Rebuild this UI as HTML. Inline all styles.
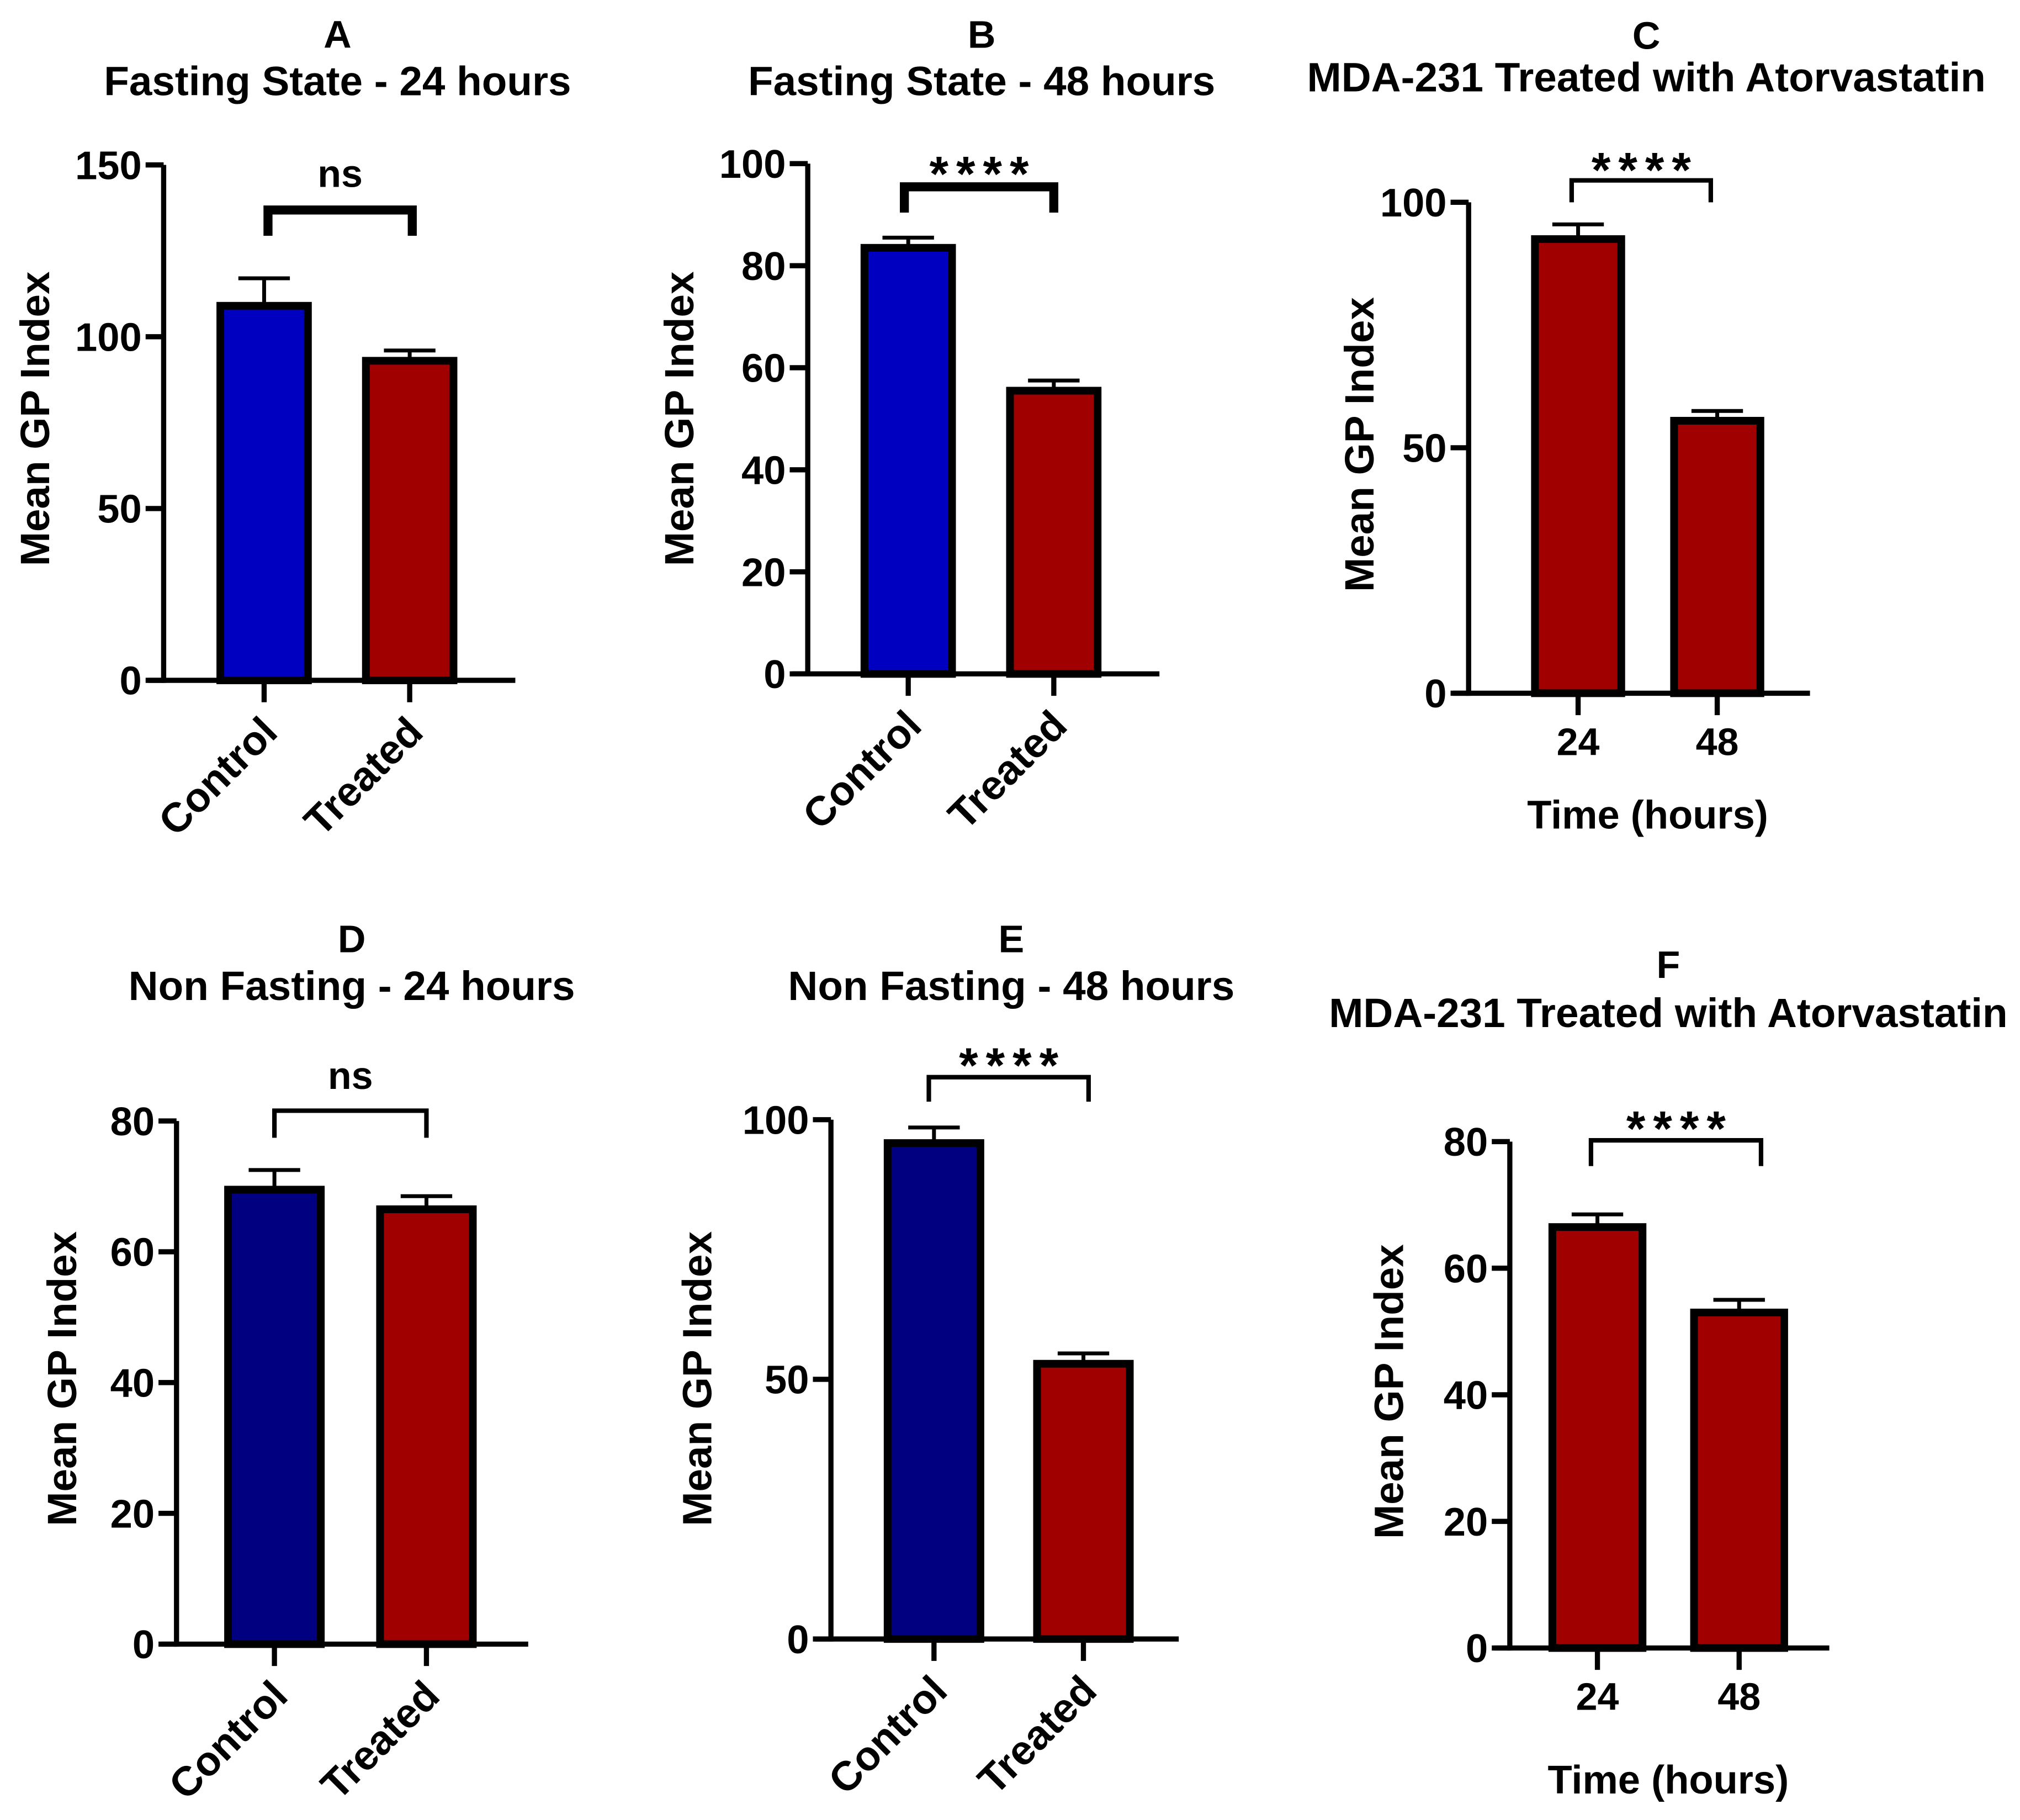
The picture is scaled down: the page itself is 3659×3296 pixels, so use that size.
<!DOCTYPE html>
<html><head><meta charset="utf-8"><style>
html,body{margin:0;padding:0;background:#fff}
svg{display:block}
text{font-family:"Liberation Sans",Arial,sans-serif;font-weight:bold;fill:#000}
</style></head><body>
<svg id="fig" xmlns="http://www.w3.org/2000/svg" width="3659" height="3296" viewBox="0 0 1568 1412.5"></svg>
<script>
const panelLetters=["A","B","C","D","E","F"];
const panelTitles=["Fasting State - 24 hours","Fasting State - 48 hours","MDA-231 Treated with Atorvastatin","Non Fasting - 24 hours","Non Fasting - 48 hours","MDA-231 Treated with Atorvastatin"];
const catsA=["Control","Treated"], catsC=["24","48"];
const meansA=[109,93], errA=[117,96];
const meansB=[83.5,55.5], errB=[85.5,57.5];
const meansC=[92.5,55.5], errC=[95.5,57.5];
const meansD=[69.5,66.5], errD=[72.5,68.5];
const meansE=[95.5,53], errE=[98.5,55];
const meansF=[66.5,53], errF=[68.5,55];
const ticksA=[0,50,100,150], ticksB=[0,20,40,60,80,100], ticksC=[0,50,100], ticksD=[0,20,40,60,80], ticksE=[0,50,100], ticksF=[0,20,40,60,80];
const sigLabels=["ns","****","****","ns","****","****"];

const NS="http://www.w3.org/2000/svg";
const svg=document.getElementById('fig');
function mk(tag,attrs,parent,txt){const e=document.createElementNS(NS,tag);for(const k in attrs)e.setAttribute(k,attrs[k]);if(txt!==undefined)e.textContent=txt;(parent||svg).appendChild(e);return e;}

const panels=[
 {ax:127,y0:528,ymax:150,ytop:128,xa0:115,xa1:400,cx:[205,318],bw:68,m:meansA,e:errA,t:ticksA,cats:catsA,rot:true,cols:["#0000c0","#a00000"],br:{y:163,x0:208,x1:320,d:20,w:7},sig:{y:145},tx:262,ty:[37,74],yl:{x:27,y:325},time:false},
 {ax:627,y0:523,ymax:100,ytop:127,xa0:615,xa1:900,cx:[705,818],bw:68,m:meansB,e:errB,t:ticksB,cats:catsA,rot:true,cols:["#0000c0","#a00000"],br:{y:145,x0:702,x1:818,d:20,w:7},sig:{y:138},tx:762,ty:[37,74],yl:{x:527,y:325},time:false},
 {ax:1140,y0:538,ymax:100,ytop:157,xa0:1128,xa1:1405,cx:[1225,1333],bw:67,m:meansC,e:errC,t:ticksC,cats:catsC,rot:false,cols:["#a00000","#a00000"],br:{y:140,x0:1220,x1:1328,d:17,w:3.5},sig:{y:135},tx:1278,ty:[38,71],yl:{x:1055,y:345},time:{y:643}},
 {ax:137,y0:1276,ymax:80,ytop:870,xa0:125,xa1:410,cx:[213,331],bw:72,m:meansD,e:errD,t:ticksD,cats:catsA,rot:true,cols:["#000080","#a00000"],br:{y:862,x0:213,x1:331,d:21,w:3.5},sig:{y:845},tx:273,ty:[739,776],yl:{x:48,y:1070},time:false},
 {ax:645,y0:1272,ymax:100,ytop:869,xa0:633,xa1:915,cx:[725,841],bw:72,m:meansE,e:errE,t:ticksE,cats:catsA,rot:true,cols:["#000080","#a00000"],br:{y:836,x0:721,x1:845,d:19,w:3.5},sig:{y:830},tx:785,ty:[739,776],yl:{x:541,y:1070},time:false},
 {ax:1172,y0:1279,ymax:80,ytop:886,xa0:1160,xa1:1420,cx:[1240,1350],bw:70,m:meansF,e:errF,t:ticksF,cats:catsC,rot:false,cols:["#a00000","#a00000"],br:{y:885,x0:1235,x1:1367,d:20,w:3.5},sig:{y:879},tx:1295,ty:[759,797],yl:{x:1078,y:1080},time:{y:1392}}
];

panels.forEach((p,i)=>{
 const g=mk('g',{});
 
 
 const yS=v=>p.y0-(v/p.ymax)*(p.y0-p.ytop);
 const l=mk('text',{x:p.tx,y:p.ty[0],'text-anchor':'middle','font-size':30},g,panelLetters[i]);
 
 
 const t=mk('text',{x:p.tx,y:p.ty[1],'text-anchor':'middle','font-size':32},g,panelTitles[i]);
 
 
 p.m.forEach((v,j)=>{
  const x=p.cx[j];
  const eb=mk('path',{d:`M${x} ${yS(v)}V${yS(p.e[j])}M${x-20} ${yS(p.e[j])}H${x+20}`,stroke:'#000','stroke-width':3,fill:'none'},g);
  
  
  const r=mk('rect',{x:x-p.bw/2,y:yS(v),width:p.bw,height:p.y0-yS(v),fill:p.cols[j],stroke:'#000','stroke-width':6},g);
  
  
  const tk=mk('line',{x1:x,x2:x,y1:p.y0,y2:p.y0+17,stroke:'#000','stroke-width':4},g);
  
  
  let lab;
  if(p.rot){
   const ax=x+12, ay=p.y0+42;
   lab=mk('text',{x:ax,y:ay,'text-anchor':'end','font-size':32,transform:`rotate(-45 ${ax} ${ay})`},g,p.cats[j]);
  } else {
   lab=mk('text',{x:x,y:p.y0+48,'text-anchor':'middle','font-size':30},g,p.cats[j]);
  }
  
  
 });
 const ya=mk('line',{x1:p.ax,x2:p.ax,y1:p.ytop,y2:p.y0+2,stroke:'#000','stroke-width':4},g);
 
 
 const xa=mk('line',{x1:p.xa0,x2:p.xa1,y1:p.y0,y2:p.y0,stroke:'#000','stroke-width':4},g);
 
 
 p.t.forEach(v=>{
  const y=yS(v);
  const tk=mk('line',{x1:p.ax-14,x2:p.ax,y1:y,y2:y,stroke:'#000','stroke-width':4},g);
  
  
  const tl=mk('text',{x:p.ax-17,y:y+11,'text-anchor':'end','font-size':31},g,String(v));
  
  
 });
 const yl=mk('text',{x:p.yl.x,y:p.yl.y,'text-anchor':'middle','font-size':32,transform:`rotate(-90 ${p.yl.x} ${p.yl.y})`,'dominant-baseline':'central'},g,'Mean GP Index');
 
 
 if(p.time){
  const tt=mk('text',{x:(p.cx[0]+p.cx[1])/2,y:p.time.y,'text-anchor':'middle','font-size':31},g,'Time (hours)');
  
  
 }
 const b=p.br;
 const br=mk('path',{d:`M${b.x0} ${b.y+b.d}V${b.y}H${b.x1}V${b.y+b.d}`,stroke:'#000','stroke-width':b.w,fill:'none'},g);
 
 
 const isNs=sigLabels[i]==='ns';
 const s=mk('text',{x:(b.x0+b.x1)/2+(isNs?0:3),y:p.sig.y+(isNs?0:10),'text-anchor':'middle','font-size':isNs?30:38,'font-weight':isNs?'normal':'bold','letter-spacing':isNs?0:6},g,sigLabels[i]);
 
 
});
</script>
</body></html>
